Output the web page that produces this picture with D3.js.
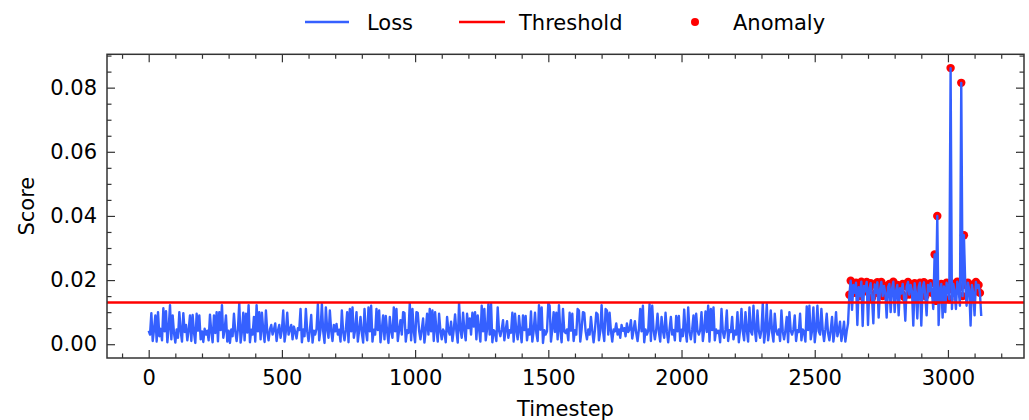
<!DOCTYPE html>
<html>
<head>
<meta charset="utf-8">
<script src="https://cdn.jsdelivr.net/npm/d3@7"></script>
<style>
    body { margin: 0; background: #fff; }
    svg { display: block; font-family: "DejaVu Sans", sans-serif; }
</style>
</head>
<body>
<svg id="viz"></svg>
<script>
// reconstruction loss, one value every 5 timesteps
const nSteps = 3130;
const stepSize = 5;
const loss = [
    0.0042, 0.0030, 0.0097, 0.0010, 0.0045, 0.0090, 0.0008, 0.0100, 0.0025, 0.0048,
    0.0012, 0.0112, 0.0040, 0.0103, 0.0006, 0.0050, 0.0122, 0.0015, 0.0090, 0.0035,
    0.0005, 0.0046, 0.0020, 0.0100, 0.0042, 0.0008, 0.0097, 0.0038, 0.0060, 0.0012,
    0.0044, 0.0090, 0.0010, 0.0091, 0.0036, 0.0004, 0.0095, 0.0042, 0.0090, 0.0015,
    0.0040, 0.0007, 0.0048, 0.0030, 0.0042, 0.0012, 0.0092, 0.0038, 0.0006, 0.0090,
    0.0035, 0.0100, 0.0009, 0.0100, 0.0044, 0.0122, 0.0020, 0.0045, 0.0090, 0.0008,
    0.0042, 0.0004, 0.0046, 0.0025, 0.0095, 0.0040, 0.0010, 0.0048, 0.0128, 0.0005,
    0.0040, 0.0098, 0.0012, 0.0095, 0.0036, 0.0122, 0.0006, 0.0045, 0.0030, 0.0085,
    0.0008, 0.0122, 0.0040, 0.0100, 0.0015, 0.0098, 0.0044, 0.0007, 0.0105, 0.0038,
    0.0012, 0.0046, 0.0060, 0.0030, 0.0045, 0.0065, 0.0010, 0.0042, 0.0060, 0.0020,
    0.0045, 0.0105, 0.0008, 0.0040, 0.0098, 0.0030, 0.0046, 0.0060, 0.0015, 0.0055,
    0.0038, 0.0018, 0.0050, 0.0044, 0.0110, 0.0006, 0.0046, 0.0025, 0.0110, 0.0040,
    0.0010, 0.0044, 0.0091, 0.0005, 0.0042, 0.0030, 0.0048, 0.0125, 0.0012, 0.0045,
    0.0125, 0.0040, 0.0004, 0.0115, 0.0046, 0.0020, 0.0105, 0.0042, 0.0010, 0.0060,
    0.0040, 0.0063, 0.0030, 0.0045, 0.0008, 0.0105, 0.0038, 0.0012, 0.0046, 0.0100,
    0.0006, 0.0110, 0.0040, 0.0115, 0.0020, 0.0045, 0.0100, 0.0008, 0.0044, 0.0085,
    0.0035, 0.0005, 0.0110, 0.0042, 0.0012, 0.0115, 0.0040, 0.0120, 0.0008, 0.0045,
    0.0030, 0.0110, 0.0044, 0.0105, 0.0006, 0.0046, 0.0090, 0.0015, 0.0088, 0.0040,
    0.0004, 0.0085, 0.0042, 0.0020, 0.0115, 0.0040, 0.0110, 0.0010, 0.0045, 0.0075,
    0.0030, 0.0100, 0.0098, 0.0008, 0.0044, 0.0035, 0.0128, 0.0012, 0.0110, 0.0040,
    0.0006, 0.0100, 0.0098, 0.0042, 0.0015, 0.0046, 0.0080, 0.0005, 0.0044, 0.0095,
    0.0030, 0.0110, 0.0040, 0.0105, 0.0010, 0.0100, 0.0045, 0.0008, 0.0095, 0.0042,
    0.0015, 0.0046, 0.0038, 0.0006, 0.0085, 0.0042, 0.0030, 0.0070, 0.0010, 0.0045,
    0.0093, 0.0040, 0.0005, 0.0128, 0.0046, 0.0020, 0.0098, 0.0044, 0.0012, 0.0095,
    0.0050, 0.0080, 0.0030, 0.0098, 0.0055, 0.0100, 0.0015, 0.0090, 0.0048, 0.0008,
    0.0120, 0.0040, 0.0110, 0.0012, 0.0046, 0.0125, 0.0030, 0.0128, 0.0006, 0.0044,
    0.0038, 0.0010, 0.0115, 0.0042, 0.0025, 0.0046, 0.0075, 0.0012, 0.0045, 0.0072,
    0.0020, 0.0044, 0.0036, 0.0098, 0.0008, 0.0095, 0.0042, 0.0015, 0.0088, 0.0040,
    0.0006, 0.0090, 0.0044, 0.0088, 0.0012, 0.0046, 0.0030, 0.0102, 0.0008, 0.0042,
    0.0098, 0.0035, 0.0010, 0.0122, 0.0045, 0.0115, 0.0004, 0.0044, 0.0030, 0.0040,
    0.0128, 0.0120, 0.0008, 0.0046, 0.0100, 0.0038, 0.0098, 0.0015, 0.0122, 0.0042,
    0.0006, 0.0110, 0.0040, 0.0035, 0.0046, 0.0012, 0.0098, 0.0042, 0.0095, 0.0010,
    0.0044, 0.0030, 0.0110, 0.0105, 0.0008, 0.0046, 0.0100, 0.0098, 0.0040, 0.0015,
    0.0046, 0.0030, 0.0085, 0.0042, 0.0006, 0.0044, 0.0098, 0.0093, 0.0012, 0.0040,
    0.0122, 0.0045, 0.0010, 0.0110, 0.0105, 0.0030, 0.0098, 0.0042, 0.0008, 0.0046,
    0.0040, 0.0065, 0.0030, 0.0046, 0.0020, 0.0060, 0.0042, 0.0050, 0.0025, 0.0065,
    0.0038, 0.0046, 0.0075, 0.0018, 0.0044, 0.0072, 0.0035, 0.0010, 0.0046, 0.0110,
    0.0040, 0.0120, 0.0006, 0.0046, 0.0030, 0.0042, 0.0125, 0.0010, 0.0120, 0.0044,
    0.0015, 0.0045, 0.0095, 0.0038, 0.0008, 0.0085, 0.0042, 0.0020, 0.0098, 0.0040,
    0.0006, 0.0046, 0.0085, 0.0030, 0.0044, 0.0012, 0.0088, 0.0040, 0.0088, 0.0010,
    0.0045, 0.0025, 0.0108, 0.0042, 0.0008, 0.0115, 0.0040, 0.0015, 0.0046, 0.0090,
    0.0006, 0.0095, 0.0042, 0.0030, 0.0044, 0.0100, 0.0010, 0.0045, 0.0102, 0.0038,
    0.0120, 0.0008, 0.0110, 0.0044, 0.0115, 0.0012, 0.0046, 0.0035, 0.0042, 0.0006,
    0.0110, 0.0040, 0.0020, 0.0046, 0.0105, 0.0010, 0.0044, 0.0038, 0.0085, 0.0015,
    0.0042, 0.0030, 0.0100, 0.0006, 0.0046, 0.0110, 0.0040, 0.0012, 0.0100, 0.0044,
    0.0008, 0.0115, 0.0040, 0.0030, 0.0120, 0.0046, 0.0010, 0.0105, 0.0042, 0.0020,
    0.0044, 0.0128, 0.0005, 0.0040, 0.0125, 0.0012, 0.0046, 0.0105, 0.0038, 0.0008,
    0.0095, 0.0042, 0.0030, 0.0046, 0.0010, 0.0105, 0.0040, 0.0015, 0.0044, 0.0085,
    0.0006, 0.0100, 0.0042, 0.0030, 0.0046, 0.0090, 0.0010, 0.0044, 0.0038, 0.0095,
    0.0012, 0.0046, 0.0040, 0.0008, 0.0118, 0.0044, 0.0120, 0.0015, 0.0042, 0.0115,
    0.0006, 0.0046, 0.0120, 0.0040, 0.0030, 0.0110, 0.0044, 0.0010, 0.0046, 0.0095,
    0.0035, 0.0012, 0.0044, 0.0085, 0.0008, 0.0040, 0.0100, 0.0025, 0.0042, 0.0070,
    0.0010, 0.0035, 0.0070, 0.0008, 0.0040, 0.0065, 0.0154, 0.0198, 0.0107, 0.0185,
    0.0160, 0.0192, 0.0060, 0.0178, 0.0150, 0.0195, 0.0057, 0.0182, 0.0165, 0.0194,
    0.0060, 0.0175, 0.0190, 0.0145, 0.0065, 0.0186, 0.0160, 0.0193, 0.0083, 0.0170,
    0.0194, 0.0150, 0.0182, 0.0160, 0.0083, 0.0178, 0.0188, 0.0100, 0.0172, 0.0195,
    0.0100, 0.0165, 0.0185, 0.0090, 0.0175, 0.0158, 0.0188, 0.0148, 0.0073, 0.0180,
    0.0194, 0.0155, 0.0185, 0.0165, 0.0058, 0.0190, 0.0160, 0.0080, 0.0178, 0.0192,
    0.0058, 0.0175, 0.0193, 0.0150, 0.0090, 0.0185, 0.0165, 0.0190, 0.0160, 0.0110,
    0.0280, 0.0135, 0.0400, 0.0060, 0.0165, 0.0188, 0.0083, 0.0180, 0.0100, 0.0192,
    0.0170, 0.0140, 0.0861, 0.0110, 0.0188, 0.0165, 0.0110, 0.0195, 0.0175, 0.0120,
    0.0815, 0.0150, 0.0340, 0.0185, 0.0120, 0.0192, 0.0170, 0.0058, 0.0185, 0.0160,
    0.0090, 0.0194, 0.0175, 0.0185, 0.0160, 0.0088
];
const threshold = 0.013;

const xTicks = [0, 500, 1000, 1500, 2000, 2500, 3000];
const yTicks = [0, 0.02, 0.04, 0.06, 0.08];
const legendLabels = ["Loss", "Threshold", "Anomaly"];

const app = {
    init() {
        const data = loss.map((v, i) => ({ t: i * stepSize, loss: v }));
        this.createGraph(data);
    },

    createGraph(data) {
        const width = 1029;
        const height = 420;
        const left = 107, right = 1024, top = 54.3, bottom = 358;
        const blue = "#3560ff";
        const red = "#ff0000";
        const axisColor = "#333";
        const fontSize = "21px";

        this.svg = d3.select("#viz").attr("width", width).attr("height", height);

        // matplotlib style 5% margins
        const pad = 0.05 * nSteps;
        const x = d3.scaleLinear().domain([-pad, nSteps - 1 + pad]).range([left, right]);
        const y = d3.scaleLinear().domain([-0.0043, 0.0904]).range([bottom, top]);

        const xMinor = d3.range(-100, 3300, 100).filter(v => v % 500 !== 0);
        const yMinor = d3.range(0, 0.0901, 0.005).filter(v => Math.round(v * 1000) % 20 !== 0);

        this.svg.append("defs").append("clipPath").attr("id", "plot-clip")
            .append("rect").attr("x", left).attr("y", top).attr("width", right - left).attr("height", bottom - top);

        const plot = this.svg.append("g").attr("clip-path", "url(#plot-clip)");

        // anomalies first (matplotlib puts scatter below lines)
        const anomalies = data.filter(d => d.loss > threshold);
        plot.selectAll("circle").data(anomalies).enter().append("circle")
            .attr("cx", d => x(d.t)).attr("cy", d => y(d.loss)).attr("r", 4.2).attr("fill", red);

        const line = d3.line().x(d => x(d.t)).y(d => y(d.loss));
        plot.append("path").datum(data).attr("d", line)
            .attr("fill", "none").attr("stroke", blue).attr("stroke-width", 2.4).attr("stroke-linejoin", "round");

        plot.append("line").attr("x1", left).attr("x2", right).attr("y1", y(threshold)).attr("y2", y(threshold))
            .attr("stroke", red).attr("stroke-width", 2.5);

        // axes: ticks point inward on all four sides
        const styleAxis = g => {
            g.select(".domain").remove();
            g.selectAll(".tick line").attr("stroke", axisColor).attr("stroke-width", 1.2);
            g.selectAll(".tick text").attr("fill", "#000").style("font-size", fontSize).style("font-family", "DejaVu Sans");
        };
        this.svg.append("g").attr("transform", `translate(0, ${bottom})`)
            .call(d3.axisBottom(x).tickValues(xTicks).tickSize(-8).tickPadding(12).tickFormat(d3.format("d"))).call(styleAxis);
        this.svg.append("g").attr("transform", `translate(0, ${bottom})`)
            .call(d3.axisBottom(x).tickValues(xMinor).tickSize(-4.5).tickFormat("")).call(styleAxis);
        this.svg.append("g").attr("transform", `translate(0, ${top})`)
            .call(d3.axisTop(x).tickValues(xTicks).tickSize(-8).tickFormat("")).call(styleAxis);
        this.svg.append("g").attr("transform", `translate(0, ${top})`)
            .call(d3.axisTop(x).tickValues(xMinor).tickSize(-4.5).tickFormat("")).call(styleAxis);

        this.svg.append("g").attr("transform", `translate(${left}, 0)`)
            .call(d3.axisLeft(y).tickValues(yTicks).tickSize(-8).tickPadding(10).tickFormat(d3.format(".2f"))).call(styleAxis);
        this.svg.append("g").attr("transform", `translate(${left}, 0)`)
            .call(d3.axisLeft(y).tickValues(yMinor).tickSize(-4.5).tickFormat("")).call(styleAxis);
        this.svg.append("g").attr("transform", `translate(${right}, 0)`)
            .call(d3.axisRight(y).tickValues(yTicks).tickSize(-8).tickFormat("")).call(styleAxis);
        this.svg.append("g").attr("transform", `translate(${right}, 0)`)
            .call(d3.axisRight(y).tickValues(yMinor).tickSize(-4.5).tickFormat("")).call(styleAxis);

        this.svg.append("rect").attr("x", left).attr("y", top).attr("width", right - left).attr("height", bottom - top)
            .attr("fill", "none").attr("stroke", axisColor).attr("stroke-width", 1.5);

        this.svg.append("text").attr("x", (left + right) / 2).attr("y", 416).attr("text-anchor", "middle")
            .style("font-size", fontSize).text("Timestep");
        this.svg.append("text").attr("transform", "rotate(-90)").attr("x", -(top + bottom) / 2).attr("y", 34)
            .attr("text-anchor", "middle").style("font-size", fontSize).text("Score");

        // legend on one row above the axes
        const legend = this.svg.append("g").attr("transform", "translate(0, 22)");
        legend.append("line").attr("x1", 305).attr("x2", 349).attr("y1", 0).attr("y2", 0).attr("stroke", blue).attr("stroke-width", 2.5);
        legend.append("line").attr("x1", 459).attr("x2", 505).attr("y1", 0).attr("y2", 0).attr("stroke", red).attr("stroke-width", 2.5);
        legend.append("circle").attr("cx", 695).attr("cy", 0).attr("r", 4).attr("fill", red);
        legend.selectAll("text").data(legendLabels).enter().append("text")
            .attr("x", (d, i) => [367, 519, 733][i]).attr("y", 7.5)
            .style("font-size", fontSize).text(d => d);
    }
}

window.addEventListener("DOMContentLoaded", () => app.init())
</script>
</body>
</html>
